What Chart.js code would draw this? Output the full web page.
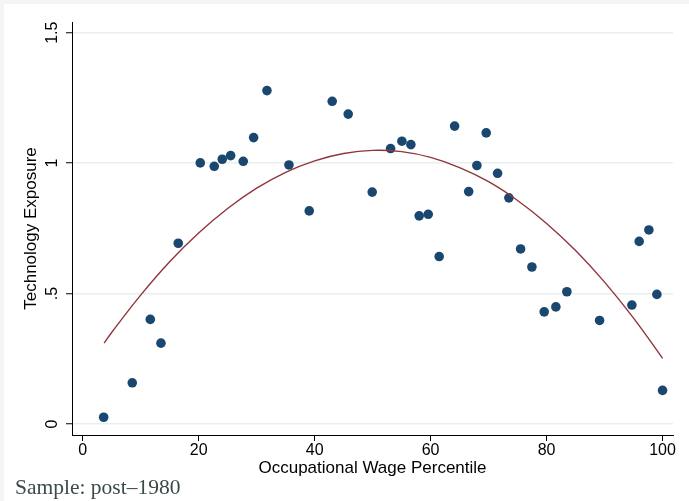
<!DOCTYPE html>
<html>
<head>
<meta charset="utf-8">
<title>Technology Exposure by Occupational Wage Percentile</title>
<script src="https://cdn.jsdelivr.net/npm/chart.js@4"></script>
<style>
    html, body { margin: 0; padding: 0; background: #ffffff; }
    #wageChart { display: block; }
</style>
</head>
<body>
<canvas id="wageChart" width="689" height="501"></canvas>
<script>
// Occupations: wage percentile and technology exposure
const wagePct = [3.62, 8.55, 11.66, 13.50, 16.48, 20.28, 22.69, 24.07, 25.52, 27.69,
    29.48, 31.78, 35.57, 39.07, 43.03, 45.79, 49.93, 53.10, 55.05, 56.60,
    58.03, 59.59, 61.48, 64.14, 66.57, 67.98, 69.59, 71.55, 73.50, 75.52,
    77.47, 79.59, 81.60, 83.50, 89.14, 94.71, 95.97, 97.64, 99.02, 100.0];
const techExp = [0.026, 0.158, 0.401, 0.310, 0.693, 1.001, 0.988, 1.015, 1.029, 1.007,
    1.098, 1.278, 0.993, 0.817, 1.237, 1.188, 0.889, 1.056, 1.084, 1.071,
    0.798, 0.804, 0.642, 1.142, 0.891, 0.991, 1.116, 0.961, 0.867, 0.671,
    0.602, 0.430, 0.449, 0.507, 0.397, 0.456, 0.700, 0.744, 0.497, 0.129];

// Quadratic fit line, sampled from the figure
const fitX = [3.7, 5, 10, 15, 20, 25, 30, 35, 40, 45, 50, 55, 60, 65, 70, 75, 80, 85, 90, 95, 100];
const fitY = [0.310, 0.351, 0.494, 0.622, 0.732, 0.826, 0.904, 0.965, 1.009, 1.037, 1.049,
    1.044, 1.022, 0.983, 0.929, 0.857, 0.769, 0.665, 0.544, 0.406, 0.252];

// Axis ticks
const xTicks = [0, 20, 40, 60, 80, 100];
const yTicks = [0, 0.5, 1, 1.5];
const yTickLabels = ['0', '.5', '1', '1.5'];

document.addEventListener('DOMContentLoaded', () => {
    const ctx = document.getElementById('wageChart').getContext('2d');

    const sansFont = 'Liberation Sans, Arial, sans-serif';

    // Light frame on the top/left edge plus white graph region
    const backgroundPlugin = {
        id: 'stataBackground',
        beforeDraw(chart) {
            const c = chart.ctx;
            c.save();
            c.fillStyle = '#f4f6f6';
            c.fillRect(0, 0, chart.width, chart.height);
            c.fillStyle = '#ffffff';
            c.fillRect(4, 4, chart.width - 4, chart.height - 4);
            c.restore();
        }
    };

    // "Sample" note in the bottom left corner
    const notePlugin = {
        id: 'sampleNote',
        afterDraw(chart) {
            const c = chart.ctx;
            c.save();
            c.font = '21.5px "Liberation Serif", "Times New Roman", serif';
            c.fillStyle = '#3b4a4a';
            c.textAlign = 'left';
            c.textBaseline = 'alphabetic';
            c.fillText('Sample: post\u20131980', 15, 494);
            c.restore();
        }
    };

    new Chart(ctx, {
        type: 'scatter',
        data: {
            datasets: [
                {
                    label: 'Fitted values',
                    data: fitX.map((x, i) => ({ x: x, y: fitY[i] })),
                    showLine: true,
                    borderColor: '#90353b',
                    borderWidth: 1.4,
                    pointRadius: 0,
                    tension: 0.4,
                    fill: false,
                    order: 0
                },
                {
                    label: 'Technology Exposure',
                    data: wagePct.map((x, i) => ({ x: x, y: techExp[i] })),
                    backgroundColor: '#1a476f',
                    borderWidth: 0,
                    pointRadius: 4.8,
                    order: 1
                }
            ]
        },
        options: {
            responsive: false,
            animation: false,
            layout: { padding: { top: 22, right: 16, bottom: 0, left: 0 } },
            plugins: {
                legend: { display: false },
                tooltip: { enabled: false }
            },
            scales: {
                x: {
                    type: 'linear',
                    min: -1.84,
                    max: 101.8,
                    afterBuildTicks: s => { s.ticks = xTicks.map(v => ({ value: v })); },
                    afterFit: s => { s.height = 66; },
                    border: { display: true, color: '#000000', width: 1 },
                    grid: {
                        drawOnChartArea: false,
                        drawTicks: true,
                        tickColor: '#000000',
                        tickLength: 6,
                        tickWidth: 1
                    },
                    ticks: {
                        color: '#000000',
                        padding: 0,
                        maxRotation: 0,
                        font: { family: sansFont, size: 16, lineHeight: 1.2 }
                    },
                    title: {
                        display: true,
                        text: 'Occupational Wage Percentile',
                        color: '#000000',
                        font: { family: sansFont, size: 17, lineHeight: 1.2 },
                        padding: { top: 0, bottom: 22 }
                    }
                },
                y: {
                    type: 'linear',
                    min: -0.042,
                    max: 1.541,
                    afterBuildTicks: s => { s.ticks = yTicks.map(v => ({ value: v })); },
                    afterFit: s => { s.width = 72; },
                    border: { display: true, color: '#000000', width: 1 },
                    grid: {
                        color: '#e8eff1',
                        lineWidth: 1.5,
                        tickColor: '#000000',
                        tickLength: 6,
                        tickWidth: 1
                    },
                    ticks: {
                        color: '#000000',
                        minRotation: 90,
                        maxRotation: 90,
                        crossAlign: 'center',
                        padding: 2,
                        font: { family: sansFont, size: 16, lineHeight: 1.2 },
                        callback: (value, index) => yTickLabels[index]
                    },
                    title: {
                        display: true,
                        text: 'Technology Exposure',
                        color: '#000000',
                        font: { family: sansFont, size: 17, lineHeight: 1.2 },
                        padding: { top: 21, bottom: 0 }
                    }
                }
            }
        },
        plugins: [backgroundPlugin, notePlugin]
    });
});
</script>
</body>
</html>
